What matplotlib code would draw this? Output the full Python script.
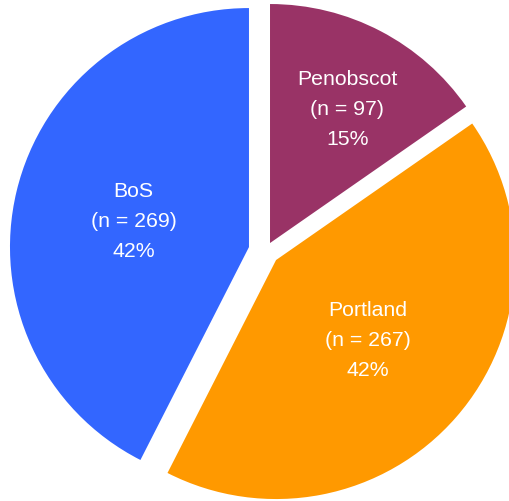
import matplotlib
matplotlib.use("Agg")
import matplotlib.pyplot as plt
import numpy as np

categories = ["Penobscot", "Portland", "BoS"]
counts = [97, 267, 269]
colors = ["#993366", "#FF9900", "#3366FF"]
explode_px = [9.1, 13.6, 17.3]
label_dist = [0.645, 0.51, 0.495]
label_dtheta = [-2.5, 0.0, 1.0]

W, H = 510, 501
fig = plt.figure(figsize=(W / 100, H / 100), dpi=100)
ax = fig.add_axes([0, 0, 1, 1])

R = 239
wedges, _ = ax.pie(counts, colors=colors, explode=explode_px, startangle=90,
                   counterclock=False, radius=R, center=(265.8, H - 251.1),
                   frame=True, wedgeprops=dict(linewidth=0))
ax.set_xlim(0, W)
ax.set_ylim(0, H)
ax.set_aspect("equal")
ax.axis("off")

total = sum(counts)
for w, cat, n, d, dt in zip(wedges, categories, counts, label_dist, label_dtheta):
    th = np.deg2rad((w.theta1 + w.theta2) / 2 + dt)
    cx, cy = w.center
    x = cx + R * d * np.cos(th)
    y = cy + R * d * np.sin(th)
    pct = round(n / total * 100)
    ax.text(x, y, f"{cat}\n(n = {n})\n{pct}%", ha="center", va="center",
            color="white", fontsize=15.3, family="Liberation Sans",
            linespacing=1.73)

fig.savefig("out.png", dpi=100)
